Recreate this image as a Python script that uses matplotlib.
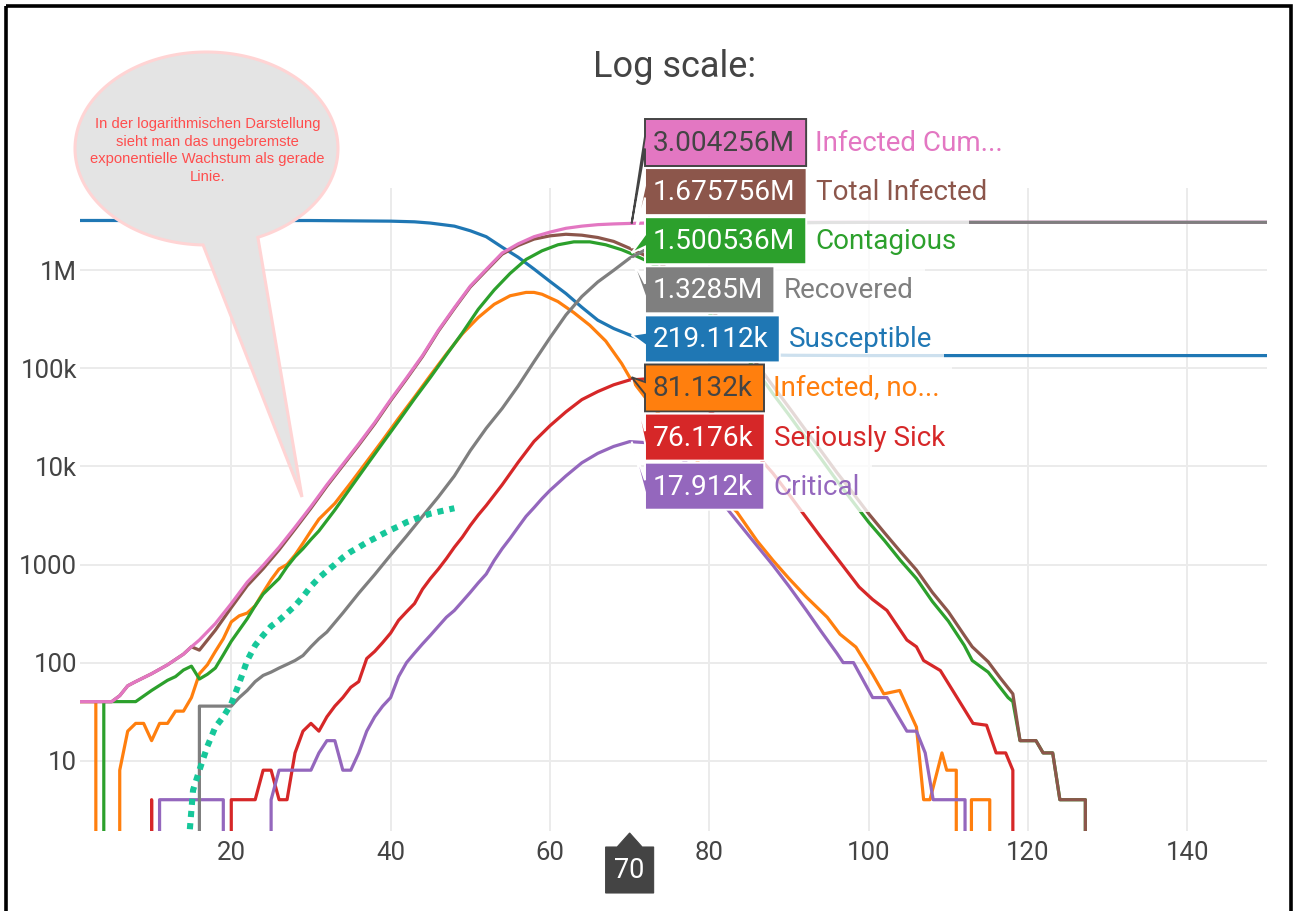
"""Log-scale epidemic simulation chart with hover labels at day 70."""

import matplotlib

matplotlib.use("Agg")
import matplotlib.pyplot as plt
import matplotlib.patches as mpatches
import matplotlib.transforms as mtransforms
import numpy as np
from matplotlib.ticker import FixedLocator, NullLocator

W, H = 1295, 911

plt.rcParams["font.family"] = ["Roboto", "DejaVu Sans"]

# ---------------------------------------------------------------- data
HOVER_DAY = 70

susceptible_days = [1, 30, 40, 43, 45, 48, 50, 52, 54, 56, 58, 60, 62, 64, 66, 68, 70,
                    72, 75, 80, 85, 90, 100, 150]
susceptible = [3.22e6, 3.216e6, 3.17e6, 3.12e6, 3.03e6, 2.82e6, 2.53e6, 2.2e6, 1.72e6,
               1.36e6, 1.03e6, 0.77e6, 0.58e6, 0.42e6, 0.31e6, 0.255e6, 219112,
               190e3, 165e3, 145e3, 138e3, 136e3, 135e3, 135e3]

not_sick_days = [1, 3, 4, 5, 6, 7, 8, 9, 10, 11, 12, 13, 14, 15, 16, 17, 18, 19, 20, 21,
                 22, 23, 24, 25, 26, 27, 28, 29, 30, 31, 33, 35, 37, 39, 41, 43, 45, 47,
                 49, 51, 53, 55, 57, 58, 59, 61, 63, 65, 67, 69, 70, 72, 74, 76, 78, 80,
                 82, 83.5, 86, 88, 90, 92.2, 94.8, 96.4, 98.4, 100.5, 101.9, 103.9, 106,
                 106.9, 107.7, 109.2, 109.8, 111, 112, 112.9, 115.2, 116.2, 150]
not_sick = [40, 40, 0, 0, 8, 20, 24, 24, 16, 24, 24, 32, 32, 44, 77, 95, 130, 175, 260,
            300, 320, 380, 520, 700, 900, 1000, 1250, 1650, 2200, 2900, 4200, 6800,
            11.2e3, 18.5e3, 31e3, 51e3, 85e3, 140e3, 225e3, 330e3, 450e3, 550e3, 595e3,
            595e3, 570e3, 480e3, 370e3, 275e3, 190e3, 112e3, 81132, 50e3, 32e3, 20e3,
            13e3, 7.5e3, 4.6e3, 3.4e3, 1740, 1100, 720, 465, 290, 195, 144, 76, 48, 52,
            22, 4, 4, 12, 8, 8, 0, 4, 4, 0, 0]

contagious_days = [1, 3, 4, 8, 10, 12, 13, 14, 15, 16, 17, 18, 19, 20, 21, 22, 23, 24,
                   25, 26, 27, 28, 29, 30, 31, 33, 35, 37, 39, 41, 43, 45, 47, 49, 51,
                   53, 55, 57, 59, 61, 63, 65, 67, 69, 70, 72, 74, 76, 78, 80, 82, 84,
                   86, 88, 90, 92, 94, 96, 98, 100, 102, 104, 106, 108, 110, 112, 113,
                   115, 117.5, 118.1, 119, 121, 121.9, 123.1, 124, 127.2, 128.2, 150]
contagious = [0, 0, 40, 40, 52, 66, 72, 84, 92, 68, 76, 88, 120, 165, 215, 280, 380, 500,
              600, 720, 950, 1200, 1450, 1800, 2200, 3600, 6100, 10.3e3, 17.3e3, 29e3,
              49e3, 81e3, 137e3, 230e3, 400e3, 630e3, 930e3, 1.29e6, 1.58e6, 1.82e6,
              1.95e6, 1.95e6, 1.82e6, 1.62e6, 1500536, 1.265e6, 1.03e6, 755e3, 529e3,
              367e3, 234e3, 149e3, 93e3, 55e3, 33.5e3, 20e3, 12.1e3, 7.2e3, 4.4e3,
              2.7e3, 1.75e3, 1.1e3, 720, 420, 265, 150, 105, 80, 44, 40, 16, 16, 12, 12,
              4, 4, 0, 0]

sick_days = [1, 9, 10, 11, 19, 20, 23, 24, 25, 26, 27, 28, 29, 30, 31, 32, 33, 34, 35,
             36, 37, 38, 39, 40, 41, 42, 43, 44, 45, 46, 47, 48, 49, 50, 51, 52, 54, 56,
             58, 60, 62, 64, 66, 68, 70, 72, 74, 76, 78, 80, 82, 84, 86, 88, 90, 91.8,
             94, 96, 98.8, 100.5, 102.3, 104.8, 106, 106.9, 109, 111.1, 113.1, 114.8,
             116, 117.2, 118.1, 119.1, 150]
sick = [0, 0, 4, 0, 0, 4, 4, 8, 8, 4, 4, 12, 20, 24, 20, 28, 36, 44, 56, 64, 110, 130,
        160, 200, 270, 330, 400, 560, 720, 900, 1150, 1500, 1900, 2500, 3200, 4000, 6500,
        11e3, 18e3, 26e3, 36e3, 48e3, 58e3, 68e3, 76176, 78e3, 72e3, 62e3, 49e3, 37e3,
        27.5e3, 19.5e3, 13e3, 8.5e3, 5.2e3, 3.3e3, 1.9e3, 1.17e3, 590, 440, 340, 170,
        145, 105, 83, 44, 24, 23, 12, 12, 8, 0, 0]

critical_days = [1, 10, 11, 19, 20, 24, 25, 26, 30, 31, 32, 33, 34, 35, 36, 37, 38, 39,
                 40, 41, 42, 43, 44, 45, 46, 47, 48, 49, 50, 51, 52, 53, 54, 55, 56, 57,
                 58, 59, 60, 62, 64, 66, 68, 70, 72, 74, 76, 78, 80, 82.6, 85, 88, 90,
                 92.2, 94, 96, 96.8, 98.1, 100.5, 102.3, 104.8, 106, 107.1, 108.1, 112.1,
                 113.1, 150]
critical = [0, 0, 4, 4, 0, 0, 4, 8, 8, 12, 16, 16, 8, 8, 12, 20, 28, 36, 44, 72, 100, 125,
            155, 190, 235, 290, 340, 420, 520, 650, 800, 1100, 1450, 1850, 2400, 3100,
            3800, 4700, 5700, 8000, 10.9e3, 13.6e3, 16e3, 17912, 17.5e3, 15.8e3, 13e3,
            9.5e3, 6.3e3, 3.4e3, 1950, 980, 600, 340, 210, 125, 100, 100, 44, 44, 20, 20,
            12, 4, 4, 0, 0]

total_days = [1, 5, 6, 7, 8, 10, 12, 14, 15, 16, 18, 20, 22, 24, 26, 28, 30, 32, 34, 36,
              38, 40, 42, 44, 46, 48, 50, 52, 54, 56, 58, 60, 62, 64, 66, 68, 70, 72, 74,
              76, 78, 80, 82, 84, 86, 88, 90, 92, 94, 96, 98, 100, 102, 104, 106, 108,
              110, 112, 113, 115, 116.5, 118.1, 119, 121, 121.9, 123.1, 124, 127.2,
              128.2, 150]
total = [40, 40, 46, 58, 64, 77, 95, 122, 145, 134, 214, 364, 608, 906, 1412, 2295, 3755,
         6295, 10.2e3, 16.5e3, 27.2e3, 46.8e3, 78e3, 132e3, 240e3, 407e3, 676e3, 995e3,
         1.46e6, 1.79e6, 2.08e6, 2.245e6, 2.33e6, 2.28e6, 2.16e6, 1.97e6, 1675756,
         1.41e6, 1.15e6, 850e3, 600e3, 417e3, 270e3, 174e3, 110e3, 66e3, 40e3, 24e3,
         14.5e3, 8.7e3, 5.4e3, 3.3e3, 2.1e3, 1.35e3, 880, 520, 330, 190, 145, 102, 70,
         48, 16, 16, 12, 12, 4, 4, 0, 0]

cumulative_days = [1, 5, 6, 7, 8, 10, 12, 14, 15, 16, 18, 20, 22, 24, 26, 28, 30, 32, 34,
                   36, 38, 40, 42, 44, 46, 48, 50, 52, 54, 56, 58, 60, 62, 64, 66, 68,
                   70, 72, 74, 76, 78, 80, 82, 84, 86, 88, 90, 95, 100, 150]
cumulative = [40, 40, 46, 58, 64, 77, 95, 122, 145, 170, 250, 400, 660, 980, 1500, 2400,
              3900, 6500, 10.5e3, 17e3, 28e3, 48e3, 80e3, 135e3, 245e3, 415e3, 690e3,
              1.02e6, 1.5e6, 1.86e6, 2.2e6, 2.45e6, 2.68e6, 2.82e6, 2.92e6, 2.97e6,
              3004256, 3.03e6, 3.045e6, 3.055e6, 3.062e6, 3.068e6, 3.072e6, 3.075e6,
              3.078e6, 3.08e6, 3.082e6, 3.084e6, 3.085e6, 3.085e6]

recovered_days = [1, 15, 16, 20, 21, 22, 23, 24, 25, 26, 27, 28, 29, 30, 31, 32, 34, 36,
                  38, 40, 42, 44, 46, 48, 50, 52, 54, 56, 58, 60, 62, 64, 66, 68, 70, 72,
                  74, 76, 78, 80, 82, 84, 86, 88, 90, 95, 100, 110, 150]
recovered = [0, 0, 36, 36, 44, 52, 64, 74, 80, 88, 96, 105, 118, 145, 175, 205, 320, 510,
             790, 1250, 1950, 3100, 4900, 8000, 14.5e3, 24.5e3, 39e3, 66e3, 117e3, 205e3,
             350e3, 540e3, 760e3, 1.0e6, 1328500, 1.62e6, 1.895e6, 2.205e6, 2.46e6,
             2.65e6, 2.8e6, 2.9e6, 2.97e6, 3.01e6, 3.04e6, 3.073e6, 3.08e6, 3.084e6,
             3.085e6]

reported_days = [14.8, 15.2, 16, 17, 18, 19, 20, 21, 22, 23, 24, 25, 26, 27, 28, 29, 30,
                 31, 32, 33, 34, 35, 36, 37, 38, 39, 40, 41, 42, 43, 44, 45, 46, 47, 48]
reported = [2, 5, 8, 14, 22, 28, 38, 62, 105, 150, 190, 235, 270, 320, 380, 470, 600, 730,
            860, 1000, 1180, 1350, 1500, 1680, 1850, 2050, 2250, 2450, 2700, 2900, 3100,
            3300, 3450, 3600, 3750]

y_ticks = [10, 100, 1000, 1e4, 1e5, 1e6]
y_tick_labels = ["10", "100", "1000", "10k", "100k", "1M"]
x_ticks = [20, 40, 60, 80, 100, 120, 140]

bubble_lines = ["In der logarithmischen Darstellung", "sieht man das ungebremste",
                "exponentielle Wachstum als gerade", "Linie."]

# plot order (later on top), hover-label name, colour, dark text in label?
series = [
    ("Susceptible", susceptible_days, susceptible, "#1f77b4", False),
    ("Infected, no...", not_sick_days, not_sick, "#ff7f0e", True),
    ("Contagious", contagious_days, contagious, "#2ca02c", False),
    ("Seriously Sick", sick_days, sick, "#d62728", False),
    ("Critical", critical_days, critical, "#9467bd", False),
    ("Total Infected", total_days, total, "#8c564b", False),
    ("Infected Cum...", cumulative_days, cumulative, "#e377c2", True),
    ("Recovered", recovered_days, recovered, "#7f7f7f", False),
]


def fmt_value(v):
    if v >= 1e6:
        return f"{v / 1e6:.7g}M"
    return f"{v / 1e3:.7g}k"


# ---------------------------------------------------------------- figure
fig = plt.figure(figsize=(W / 100, H / 100), dpi=100)
fig.patch.set_facecolor("white")

x_px0, x_px1 = 79.9, 1267.0
y_px0, y_px1 = 188.3, 831.0
ax = fig.add_axes([x_px0 / W, 1 - y_px1 / H, (x_px1 - x_px0) / W, (y_px1 - y_px0) / H])
ax.set_yscale("log", nonpositive="clip")
ax.set_xlim(1, 150)
ax.set_ylim(10 ** 0.283, 10 ** 6.836)
for s in ax.spines.values():
    s.set_visible(False)
ax.xaxis.set_major_locator(FixedLocator(x_ticks))
ax.yaxis.set_major_locator(FixedLocator(y_ticks))
ax.yaxis.set_minor_locator(NullLocator())
ax.set_yticklabels(y_tick_labels)
ax.tick_params(length=0, labelsize=18.5, colors="#444444")
ax.tick_params(axis="x", pad=7)
ax.tick_params(axis="y", pad=2)
ax.grid(True, color="#ebebeb", lw=1.4)
ax.set_axisbelow(True)

for name, days, vals, color, _ in series:
    ax.plot(days, vals, color=color, lw=2.3, solid_joinstyle="round")

ax.plot(reported_days, reported, color="#16c79a", lw=4.4, dashes=(1, 1.0),
        dash_capstyle="butt")

# pixel coordinates (origin top-left) on the figure
pix = mtransforms.Affine2D().scale(1.0 / W, -1.0 / H).translate(0, 1) + fig.transFigure


def to_px(x, y):
    dx, dy = ax.transData.transform((x, y))
    return dx, H - dy


fig.text(675, 67, "Log scale:", transform=pix, ha="center", va="center",
         fontsize=26, color="#444444")

# speech bubble
cx, cy, ra, rb = 206.5, 148.5, 131.5, 96.5
tip = (302, 497)
ts = np.linspace(np.radians(91.5), np.radians(67 + 360), 240)
pts = [(cx + ra * np.cos(t), cy + rb * np.sin(t)) for t in ts] + [tip]
bubble = mpatches.Polygon(pts, closed=True, transform=pix, fc="#e4e4e4",
                          ec="#ffd4d4", lw=2.2, zorder=5)
fig.add_artist(bubble)
for i, line in enumerate(bubble_lines):
    fig.text(cx + 1, 124 + 17.6 * i, line, transform=pix, ha="center", va="center",
             fontsize=10.6, color="#ff4d4d", family=["Liberation Sans", "DejaVu Sans"],
             zorder=6)

# hover labels at HOVER_DAY, sorted by value
fig.canvas.draw()
renderer = fig.canvas.get_renderer()
hover = []
for name, days, vals, color, dark in series:
    hover.append((vals[days.index(HOVER_DAY)], name, color, dark))
hover.sort(key=lambda h: -h[0])

box_x0 = 645
row_top, row_step, box_h = 119, 49.1, 47
for i, (v, name, color, dark) in enumerate(hover):
    y0 = row_top + row_step * i
    y1 = y0 + box_h
    yc = (y0 + y1) / 2
    tcol = "#444444" if dark else "white"
    t_val = fig.text(box_x0 + 8, yc + 1, fmt_value(v), transform=pix, ha="left",
                     va="center", fontsize=20.2, color=tcol, zorder=12)
    tw = t_val.get_window_extent(renderer).width
    box_x1 = box_x0 + 8 + tw + 11
    tx, ty = to_px(HOVER_DAY, v)
    tx += 2
    shape = [(tx, ty), (box_x0, yc + 6), (box_x0, y1), (box_x1, y1), (box_x1, y0),
             (box_x0, y0), (box_x0, yc - 6)]
    fig.add_artist(mpatches.Polygon(shape, closed=True, transform=pix, fc=color,
                                    ec="#444444" if dark else "white", lw=1.4,
                                    zorder=11))
    t_name = fig.text(box_x1 + 9, yc + 1, name, transform=pix, ha="left", va="center",
                      fontsize=20, color=color, zorder=12)
    nw = t_name.get_window_extent(renderer).width
    fig.add_artist(mpatches.Rectangle((box_x1, y0), nw + 21, row_step, transform=pix,
                                      fc="white", ec="none", alpha=0.78, zorder=10))

# x hover marker
mx, _ = to_px(HOVER_DAY, 10)
marker = [(mx, 833), (mx + 12.5, 847), (mx + 24, 847), (mx + 24, 893), (mx - 24, 893),
          (mx - 24, 847), (mx - 12.5, 847)]
fig.add_artist(mpatches.Polygon(marker, closed=True, transform=pix, fc="#444444",
                                ec="#444444", lw=0.8, zorder=11))
fig.text(mx, 871, str(HOVER_DAY), transform=pix, ha="center", va="center",
         fontsize=19.5, color="white", zorder=12)

# black frame of the screenshot
fig.add_artist(mpatches.Rectangle((5.5, 5.5), 1285.5, 930, transform=pix, fill=False,
                                  ec="black", lw=2.6, zorder=20, clip_on=False))

fig.savefig("out.png", dpi=100)
